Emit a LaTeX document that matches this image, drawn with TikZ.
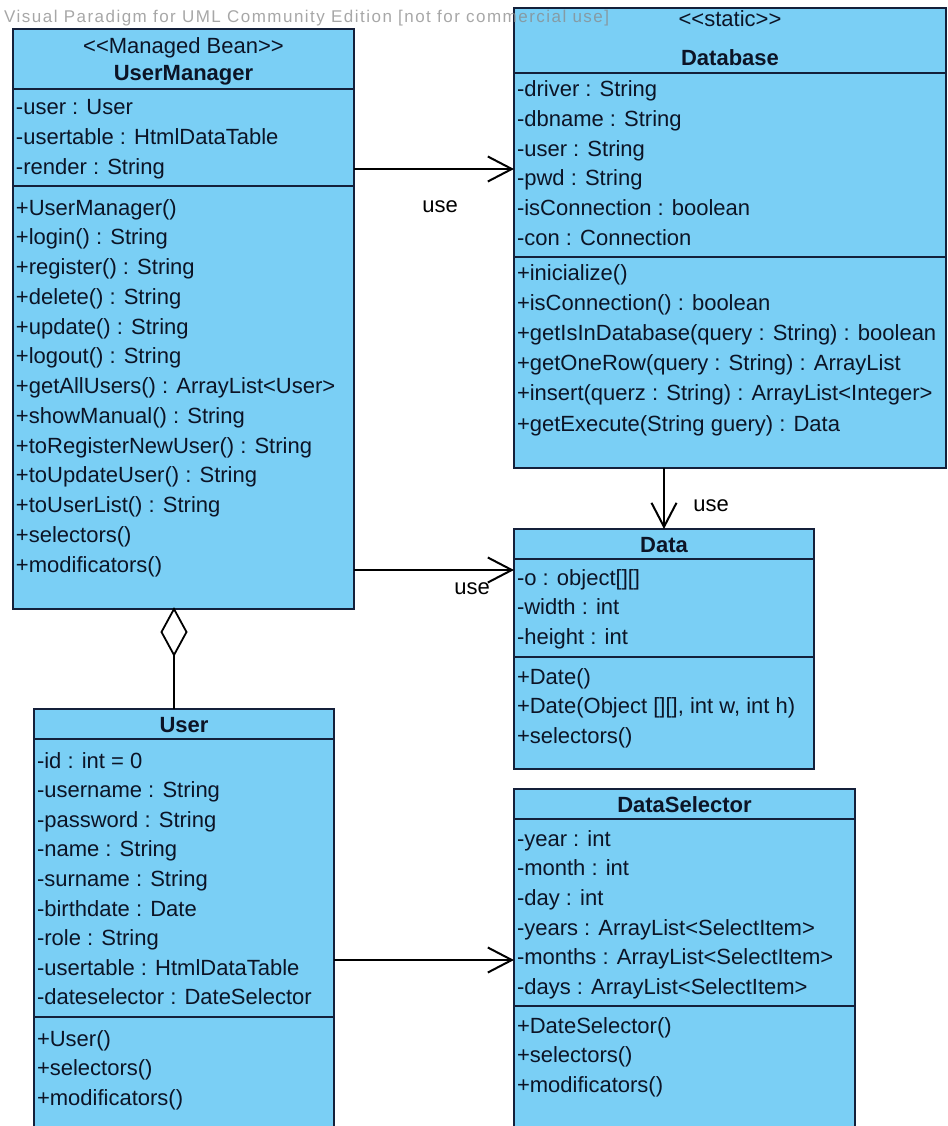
\documentclass[tikz,border=0pt]{standalone}
\usepackage{fontspec}
\newfontfamily\umlfont{Liberation Sans}
\usetikzlibrary{arrows.meta,shapes.geometric}

\definecolor{classfill}{HTML}{7ACFF5}
\definecolor{classline}{HTML}{14203A}
\definecolor{classtext}{HTML}{0C1426}
\definecolor{wmgray}{HTML}{8A8A8A}

\tikzset{
  cls/.style={draw=classline, fill=classfill, line width=2pt, anchor=north west,
              inner sep=0pt, outer sep=0pt},
  sepline/.style={draw=classline, line width=2pt},
  row/.style={anchor=base west, inner sep=0pt, outer sep=0pt, text=classtext,
              font=\umlfont\fontsize{22}{22}\selectfont},
  ttl/.style={anchor=base, inner sep=0pt, outer sep=0pt, text=classtext,
              font=\umlfont\bfseries\fontsize{22}{22}\selectfont},
  stereo/.style={anchor=base, inner sep=0pt, outer sep=0pt, text=classtext,
              font=\umlfont\fontsize{22}{22}\selectfont},
  dep/.style={draw=black, line width=1.8pt,
              -{Straight Barb[length=24pt,width=25pt,line width=2pt]}},
  lbl/.style={anchor=base, inner sep=0pt, outer sep=0pt, text=black,
              font=\umlfont\fontsize{22}{22}\selectfont},
}

% one text row per list item: prefix, x, first baseline, step, items
\newcommand\classrows[5]{%
  \foreach \txt [count=\k from 0] in {#5}{%
    \node[row] (#1\k) at (#2, {#3+#4*\k}) {\txt};}}

\begin{document}
\begin{tikzpicture}[x=1pt,y=-1pt]
\useasboundingbox (0,0) rectangle (947,1126);
\clip (0,0) rectangle (947,1126);

% ---- class boxes ----
\node[cls, minimum width=341pt, minimum height=580pt] (um) at (13,29) {};
\node[cls, minimum width=432pt, minimum height=460pt] (db) at (514,8) {};
\node[cls, minimum width=300pt, minimum height=240pt] (da) at (514,529) {};
\node[cls, minimum width=341pt, minimum height=380pt] (ds) at (514,789) {};
\node[cls, minimum width=300pt, minimum height=460pt] (us) at (34,709) {};

% ---- compartment separators ----
\draw[sepline] (um.west |- 0,89)   -- (um.east |- 0,89);
\draw[sepline] (um.west |- 0,186)  -- (um.east |- 0,186);
\draw[sepline] (db.west |- 0,73)   -- (db.east |- 0,73);
\draw[sepline] (db.west |- 0,257)  -- (db.east |- 0,257);
\draw[sepline] (da.west |- 0,559)  -- (da.east |- 0,559);
\draw[sepline] (da.west |- 0,657)  -- (da.east |- 0,657);
\draw[sepline] (ds.west |- 0,819)  -- (ds.east |- 0,819);
\draw[sepline] (ds.west |- 0,1006) -- (ds.east |- 0,1006);
\draw[sepline] (us.west |- 0,739)  -- (us.east |- 0,739);
\draw[sepline] (us.west |- 0,1017) -- (us.east |- 0,1017);

% ---- headers ----
\node[stereo] (umst) at (um.north |- 0,54) {<<Managed Bean>>};
\node[ttl]    (umtt) at (um.north |- 0,81) {UserManager};
\node[stereo] (dbst) at (db.north |- 0,27) {<<static>>};
\node[ttl]    (dbtt) at (db.north |- 0,66) {Database};
\node[ttl]    (datt) at (da.north |- 0,552) {Data};
\node[ttl]    (dstt) at (ds.north |- 0,812) {DataSelector};
\node[ttl]    (ustt) at (us.north |- 0,732) {User};

% ---- members ----
\classrows{uma}{16}{115}{29.7}{-user : User, -usertable : HtmlDataTable, -render : String}
\classrows{umo}{16}{215}{29.75}{+UserManager(), +login() : String, +register() : String,
  +delete() : String, +update() : String, +logout() : String,
  +getAllUsers() : ArrayList<User>, +showManual() : String,
  +toRegisterNewUser() : String, +toUpdateUser() : String,
  +toUserList() : String, +selectors(), +modificators()}

\classrows{dba}{517}{97}{29.6}{-driver : String, -dbname : String, -user : String,
  -pwd : String, -isConnection : boolean, -con : Connection}
\classrows{dbo}{517}{280}{30.2}{+inicialize(), +isConnection() : boolean,
  +getIsInDatabase(query : String) : boolean, +getOneRow(query : String) : ArrayList,
  +insert(querz : String) : ArrayList<Integer>, +getExecute(String guery) : Data}

\classrows{daa}{517}{585}{29.7}{-o : object[][], -width : int, -height : int}
\classrows{dao}{517}{684}{29.7}{+Date(), {+Date(Object [][], int w, int h)}, +selectors()}

\classrows{dsa}{517}{846}{29.7}{-year : int, -month : int, -day : int,
  -years : ArrayList<SelectItem>, -months : ArrayList<SelectItem>,
  -days : ArrayList<SelectItem>}
\classrows{dso}{517}{1033}{29.7}{+DateSelector(), +selectors(), +modificators()}

\classrows{usa}{37}{768}{29.6}{-id : int = 0, -username : String, -password : String,
  -name : String, -surname : String, -birthdate : Date, -role : String,
  -usertable : HtmlDataTable, -dateselector : DateSelector}
\classrows{uso}{37}{1046}{29.7}{+User(), +selectors(), +modificators()}

% ---- relationships ----
\draw[dep] (um.east |- 0,169) -- (db.west |- 0,169);
\draw[dep] (um.east |- 0,570) -- (da.west |- 0,570);
\draw[dep] (da.north |- db.south) -- (da.north);
\draw[dep] (us.east |- 0,960) -- (ds.west |- 0,960);

\node[diamond, draw=black, fill=white, line width=1.8pt, minimum width=25pt,
      minimum height=46pt, inner sep=0pt, outer sep=0pt, anchor=north]
      (agg) at (um.south -| 174,0) {};
\draw[line width=1.8pt] (agg.south) -- (agg.south |- us.north);

\node[lbl] (use1) at (440,212) {use};
\node[lbl] (use2) at (472,594) {use};
\node[lbl] (use3) at (711,511) {use};

% ---- edition banner ----
\node[anchor=base west, inner sep=0pt, text=wmgray, text opacity=0.75,
      font=\umlfont\fontsize{17}{17}\selectfont\addfontfeature{LetterSpace=8.7}]
      (banner) at (4,23) {Visual Paradigm for UML Community Edition [not for commercial use]};
\end{tikzpicture}
\end{document}
